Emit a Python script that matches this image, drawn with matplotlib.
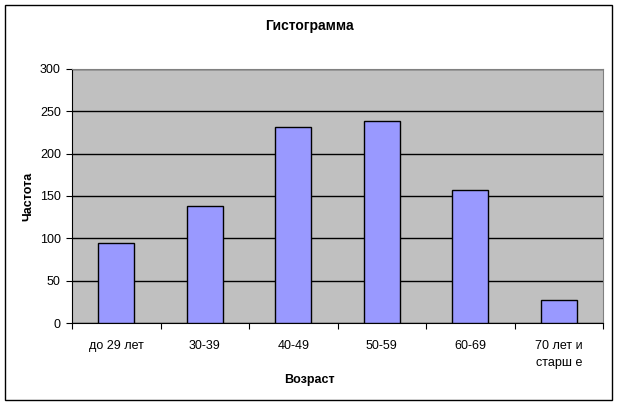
import matplotlib.pyplot as plt
import numpy as np
from matplotlib.patches import Rectangle

categories = ["до 29 лет", "30-39", "40-49", "50-59", "60-69", "70 лет и\nстарш е"]
counts = [94, 138, 232, 238, 157, 27]
y_ticks = [0, 50, 100, 150, 200, 250, 300]


def main() -> None:
    plt.rcParams["font.family"] = ["Liberation Sans", "DejaVu Sans"]

    fig = plt.figure(figsize=(6.19, 4.07), dpi=100)
    ax = fig.add_axes([72 / 619, 1 - 323 / 407, 531 / 619, 254 / 407])

    # outer chart frame
    fig.patches.append(Rectangle((4.5 / 619, 7 / 407), 607 / 619, 395 / 407,
                                 transform=fig.transFigure, fill=False,
                                 edgecolor="black", linewidth=1))

    x = np.arange(len(categories))
    ax.set_facecolor("#C0C0C0")
    ax.bar(x, counts, width=0.41, color="#9999FF", edgecolor="black",
           linewidth=1, zorder=3)

    ax.set_xlim(-0.5, len(categories) - 0.5)
    ax.set_ylim(0, 300)
    ax.set_yticks(y_ticks)
    ax.yaxis.grid(True, color="black", linewidth=1, zorder=1)

    ax.set_xticks(np.arange(len(categories) + 1) - 0.5)
    ax.set_xticklabels([])
    ax.set_xticks(x, minor=True)
    ax.set_xticklabels(categories, minor=True, fontsize=9, linespacing=1.55)
    ax.tick_params(axis="x", which="minor", length=0, pad=12)
    ax.tick_params(axis="x", which="major", length=4, direction="out")
    ax.tick_params(axis="y", length=4, direction="out", labelsize=9, pad=4)

    for side in ["top", "right"]:
        ax.spines[side].set_color("#808080")
    ax.spines["left"].set_color("black")
    ax.spines["bottom"].set_color("black")

    fig.text(0.5, 1 - 26 / 407, "Гистограмма", ha="center", va="center",
             fontsize=10, fontweight="bold")
    fig.text(0.5, 1 - 380 / 407, "Возраст", ha="center", va="center",
             fontsize=9, fontweight="bold")
    fig.text(28 / 619, 1 - 196 / 407, "Частота", ha="center", va="center",
             rotation=90, fontsize=9, fontweight="bold")

    fig.savefig("out.png", dpi=100)


if __name__ == "__main__":
    main()
